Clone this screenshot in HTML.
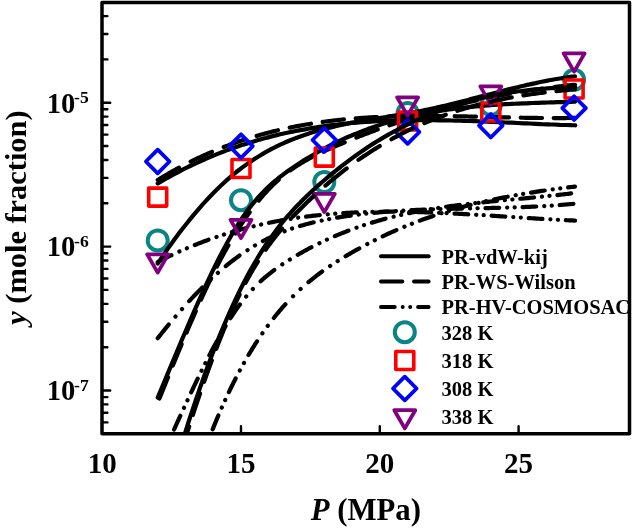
<!DOCTYPE html><html><head><meta charset="utf-8"><style>html,body{margin:0;padding:0;background:#fff;width:632px;height:530px;overflow:hidden}svg{display:block;will-change:transform}text{font-family:"Liberation Serif",serif;font-weight:bold;fill:#000}</style></head><body>
<svg width="632" height="530" viewBox="0 0 632 530">
<defs><clipPath id="pc"><rect x="102.0" y="2.5" width="527.5" height="431.2"/></clipPath></defs>
<circle cx="157.7" cy="240.4" r="10" fill="none" stroke="#0b8484" stroke-width="4"/>
<circle cx="241.0" cy="200.2" r="10" fill="none" stroke="#0b8484" stroke-width="4"/>
<circle cx="324.3" cy="182.0" r="10" fill="none" stroke="#0b8484" stroke-width="4"/>
<circle cx="407.6" cy="113.0" r="10" fill="none" stroke="#0b8484" stroke-width="4"/>
<circle cx="490.8" cy="105.0" r="10" fill="none" stroke="#0b8484" stroke-width="4"/>
<circle cx="574.1" cy="79.8" r="10" fill="none" stroke="#0b8484" stroke-width="4"/>
<g clip-path="url(#pc)" fill="none" stroke="#000" stroke-width="4.2" stroke-linecap="round" stroke-linejoin="round">
<path d="M157.7,183.5 C158.7,182.9 161.7,181.1 163.7,180.0 C165.7,178.9 167.7,177.7 169.7,176.6 C171.7,175.5 173.7,174.4 175.7,173.4 C177.7,172.3 179.7,171.3 181.7,170.2 C183.7,169.2 185.7,168.2 187.7,167.2 C189.7,166.2 191.7,165.3 193.7,164.3 C195.7,163.4 197.7,162.5 199.7,161.6 C201.7,160.6 203.7,159.8 205.7,158.9 C207.7,158.0 209.7,157.2 211.7,156.3 C213.7,155.5 215.7,154.7 217.7,153.9 C219.7,153.1 221.7,152.3 223.7,151.5 C225.7,150.8 227.7,150.0 229.7,149.3 C231.7,148.6 233.7,147.9 235.7,147.2 C237.7,146.5 239.7,145.8 241.7,145.1 C243.7,144.5 245.7,143.8 247.7,143.2 C249.7,142.6 251.7,142.0 253.7,141.4 C255.7,140.8 257.7,140.2 259.7,139.6 C261.7,139.1 263.7,138.5 265.7,138.0 C267.7,137.4 269.7,136.9 271.7,136.4 C273.7,135.9 275.7,135.4 277.7,134.9 C279.7,134.5 281.7,134.0 283.7,133.5 C285.7,133.1 287.7,132.7 289.7,132.2 C291.7,131.8 293.7,131.4 295.7,131.0 C297.7,130.6 299.7,130.2 301.7,129.9 C303.7,129.5 305.7,129.1 307.7,128.8 C309.7,128.4 311.7,128.1 313.7,127.8 C315.7,127.5 317.7,127.2 319.7,126.9 C321.7,126.6 323.7,126.3 325.7,126.0 C327.7,125.7 329.7,125.5 331.7,125.2 C333.7,125.0 335.7,124.7 337.7,124.5 C339.7,124.3 341.7,124.0 343.7,123.8 C345.7,123.6 347.7,123.4 349.7,123.2 C351.7,123.1 353.7,122.9 355.7,122.7 C357.7,122.5 359.7,122.4 361.7,122.2 C363.7,122.1 365.7,121.9 367.7,121.8 C369.7,121.7 371.7,121.6 373.7,121.4 C375.7,121.3 377.7,121.2 379.7,121.1 C381.7,121.0 383.7,120.9 385.7,120.8 C387.7,120.8 389.7,120.7 391.7,120.6 C393.7,120.6 395.7,120.5 397.7,120.4 C399.7,120.4 401.7,120.4 403.7,120.3 C405.7,120.3 407.7,120.2 409.7,120.2 C411.7,120.2 413.7,120.2 415.7,120.2 C417.7,120.1 419.7,120.1 421.7,120.1 C423.7,120.1 425.7,120.1 427.7,120.2 C429.7,120.2 431.7,120.2 433.7,120.2 C435.7,120.2 437.7,120.2 439.7,120.3 C441.7,120.3 443.7,120.3 445.7,120.4 C447.7,120.4 449.7,120.5 451.7,120.5 C453.7,120.6 455.7,120.6 457.7,120.7 C459.7,120.7 461.7,120.8 463.7,120.8 C465.7,120.9 467.7,121.0 469.7,121.0 C471.7,121.1 473.7,121.2 475.7,121.2 C477.7,121.3 479.7,121.4 481.7,121.5 C483.7,121.5 485.7,121.6 487.7,121.7 C489.7,121.8 491.7,121.9 493.7,121.9 C495.7,122.0 497.7,122.1 499.7,122.2 C501.7,122.3 503.7,122.4 505.7,122.5 C507.7,122.6 509.7,122.6 511.7,122.7 C513.7,122.8 515.7,122.9 517.7,123.0 C519.7,123.1 521.7,123.2 523.7,123.3 C525.7,123.4 527.7,123.4 529.7,123.5 C531.7,123.6 533.7,123.7 535.7,123.8 C537.7,123.9 539.7,124.0 541.7,124.1 C543.7,124.1 545.7,124.2 547.7,124.3 C549.7,124.4 551.7,124.5 553.7,124.5 C555.7,124.6 557.7,124.7 559.7,124.8 C561.7,124.8 563.7,124.9 565.7,125.0 C567.7,125.0 570.1,125.1 571.7,125.2 C573.3,125.2 574.6,125.2 575.2,125.3"/>
<path d="M157.7,263.6 C158.7,262.1 161.7,257.6 163.7,254.7 C165.7,251.8 167.7,248.9 169.7,246.1 C171.7,243.3 173.7,240.5 175.7,237.8 C177.7,235.1 179.7,232.4 181.7,229.8 C183.7,227.2 185.7,224.7 187.7,222.2 C189.7,219.6 191.7,217.2 193.7,214.8 C195.7,212.4 197.7,210.1 199.7,207.8 C201.7,205.5 203.7,203.2 205.7,201.1 C207.7,198.9 209.7,196.8 211.7,194.7 C213.7,192.6 215.7,190.6 217.7,188.7 C219.7,186.7 221.7,184.8 223.7,183.0 C225.7,181.1 227.7,179.3 229.7,177.6 C231.7,175.9 233.7,174.2 235.7,172.6 C237.7,171.0 239.7,169.5 241.7,167.9 C243.7,166.4 245.7,165.0 247.7,163.6 C249.7,162.2 251.7,160.8 253.7,159.5 C255.7,158.2 257.7,156.9 259.7,155.7 C261.7,154.5 263.7,153.3 265.7,152.2 C267.7,151.1 269.7,150.0 271.7,148.9 C273.7,147.9 275.7,146.9 277.7,145.9 C279.7,144.9 281.7,144.0 283.7,143.1 C285.7,142.2 287.7,141.4 289.7,140.5 C291.7,139.7 293.7,138.9 295.7,138.1 C297.7,137.4 299.7,136.6 301.7,135.9 C303.7,135.2 305.7,134.5 307.7,133.9 C309.7,133.2 311.7,132.6 313.7,132.0 C315.7,131.4 317.7,130.8 319.7,130.2 C321.7,129.7 323.7,129.1 325.7,128.6 C327.7,128.1 329.7,127.6 331.7,127.1 C333.7,126.6 335.7,126.2 337.7,125.7 C339.7,125.3 341.7,124.9 343.7,124.4 C345.7,124.0 347.7,123.6 349.7,123.2 C351.7,122.8 353.7,122.5 355.7,122.1 C357.7,121.7 359.7,121.4 361.7,121.0 C363.7,120.7 365.7,120.3 367.7,120.0 C369.7,119.7 371.7,119.3 373.7,119.0 C375.7,118.7 377.7,118.3 379.7,118.0 C381.7,117.7 383.7,117.4 385.7,117.1 C387.7,116.7 389.7,116.4 391.7,116.1 C393.7,115.8 395.7,115.4 397.7,115.1 C399.7,114.8 401.7,114.4 403.7,114.1 C405.7,113.7 407.7,113.4 409.7,113.0 C411.7,112.7 413.7,112.3 415.7,111.9 C417.7,111.6 419.7,111.2 421.7,110.8 C423.7,110.4 425.7,109.9 427.7,109.5 C429.7,109.1 431.7,108.7 433.7,108.2 C435.7,107.8 437.7,107.3 439.7,106.9 C441.7,106.4 443.7,105.9 445.7,105.5 C447.7,105.0 449.7,104.5 451.7,104.0 C453.7,103.5 455.7,103.0 457.7,102.5 C459.7,102.0 461.7,101.5 463.7,101.0 C465.7,100.5 467.7,100.0 469.7,99.4 C471.7,98.9 473.7,98.4 475.7,97.9 C477.7,97.4 479.7,96.8 481.7,96.3 C483.7,95.8 485.7,95.3 487.7,94.8 C489.7,94.2 491.7,93.7 493.7,93.2 C495.7,92.7 497.7,92.2 499.7,91.7 C501.7,91.1 503.7,90.6 505.7,90.1 C507.7,89.6 509.7,89.1 511.7,88.6 C513.7,88.1 515.7,87.7 517.7,87.2 C519.7,86.7 521.7,86.2 523.7,85.8 C525.7,85.3 527.7,84.8 529.7,84.4 C531.7,83.9 533.7,83.5 535.7,83.1 C537.7,82.6 539.7,82.2 541.7,81.8 C543.7,81.4 545.7,81.0 547.7,80.6 C549.7,80.2 551.7,79.9 553.7,79.5 C555.7,79.2 557.7,78.8 559.7,78.5 C561.7,78.2 563.7,77.9 565.7,77.6 C567.7,77.3 570.2,76.9 571.7,76.7 C573.2,76.5 574.5,76.4 575.0,76.3"/>
<path d="M157.7,397.6 C158.7,395.2 161.7,388.1 163.7,383.3 C165.7,378.5 167.7,373.7 169.7,368.9 C171.7,364.1 173.7,359.3 175.7,354.6 C177.7,349.8 179.7,345.0 181.7,340.3 C183.7,335.6 185.7,330.9 187.7,326.2 C189.7,321.5 191.7,316.9 193.7,312.3 C195.7,307.8 197.7,303.2 199.7,298.8 C201.7,294.3 203.7,289.9 205.7,285.6 C207.7,281.3 209.7,277.1 211.7,272.9 C213.7,268.8 215.7,264.7 217.7,260.7 C219.7,256.8 221.7,252.9 223.7,249.2 C225.7,245.4 227.7,241.8 229.7,238.3 C231.7,234.7 233.7,231.3 235.7,228.1 C237.7,224.8 239.7,221.7 241.7,218.7 C243.7,215.8 245.7,212.9 247.7,210.3 C249.7,207.6 251.7,205.0 253.7,202.6 C255.7,200.2 257.7,197.9 259.7,195.7 C261.7,193.6 263.7,191.5 265.7,189.5 C267.7,187.6 269.7,185.7 271.7,183.9 C273.7,182.1 275.7,180.5 277.7,178.8 C279.7,177.2 281.7,175.7 283.7,174.1 C285.7,172.6 287.7,171.2 289.7,169.8 C291.7,168.4 293.7,167.0 295.7,165.7 C297.7,164.4 299.7,163.1 301.7,161.8 C303.7,160.5 305.7,159.3 307.7,158.0 C309.7,156.8 311.7,155.6 313.7,154.5 C315.7,153.3 317.7,152.2 319.7,151.0 C321.7,149.9 323.7,148.9 325.7,147.8 C327.7,146.7 329.7,145.7 331.7,144.7 C333.7,143.7 335.7,142.7 337.7,141.7 C339.7,140.8 341.7,139.9 343.7,138.9 C345.7,138.0 347.7,137.1 349.7,136.3 C351.7,135.4 353.7,134.6 355.7,133.8 C357.7,132.9 359.7,132.2 361.7,131.4 C363.7,130.6 365.7,129.9 367.7,129.1 C369.7,128.4 371.7,127.7 373.7,127.0 C375.7,126.3 377.7,125.6 379.7,125.0 C381.7,124.3 383.7,123.7 385.7,123.1 C387.7,122.5 389.7,121.9 391.7,121.3 C393.7,120.8 395.7,120.2 397.7,119.7 C399.7,119.1 401.7,118.6 403.7,118.1 C405.7,117.6 407.7,117.1 409.7,116.7 C411.7,116.2 413.7,115.8 415.7,115.3 C417.7,114.9 419.7,114.5 421.7,114.1 C423.7,113.7 425.7,113.3 427.7,112.9 C429.7,112.5 431.7,112.2 433.7,111.8 C435.7,111.5 437.7,111.1 439.7,110.8 C441.7,110.5 443.7,110.2 445.7,109.9 C447.7,109.6 449.7,109.3 451.7,109.1 C453.7,108.8 455.7,108.5 457.7,108.3 C459.7,108.1 461.7,107.8 463.7,107.6 C465.7,107.4 467.7,107.2 469.7,107.0 C471.7,106.7 473.7,106.6 475.7,106.4 C477.7,106.2 479.7,106.0 481.7,105.8 C483.7,105.7 485.7,105.5 487.7,105.4 C489.7,105.2 491.7,105.1 493.7,104.9 C495.7,104.8 497.7,104.7 499.7,104.5 C501.7,104.4 503.7,104.3 505.7,104.2 C507.7,104.1 509.7,104.0 511.7,103.9 C513.7,103.8 515.7,103.7 517.7,103.6 C519.7,103.5 521.7,103.4 523.7,103.3 C525.7,103.3 527.7,103.2 529.7,103.1 C531.7,103.0 533.7,103.0 535.7,102.9 C537.7,102.8 539.7,102.8 541.7,102.7 C543.7,102.6 545.7,102.6 547.7,102.5 C549.7,102.4 551.7,102.4 553.7,102.3 C555.7,102.2 557.7,102.2 559.7,102.1 C561.7,102.1 563.7,102.0 565.7,101.9 C567.7,101.9 570.2,101.8 571.7,101.8 C573.2,101.7 574.5,101.7 575.0,101.6"/>
<path d="M157.70,179.99L159.01,179.19L160.32,178.39L161.77,177.51L163.18,176.66L164.70,175.76L166.20,174.87L167.70,174.00L169.20,173.13L170.70,172.28L172.20,171.43L173.70,170.59L175.20,169.75L176.70,168.93L178.20,168.11L179.00,167.68M190.70,161.63L192.20,160.89L193.70,160.15L195.20,159.43L196.70,158.71L198.20,158.00L199.70,157.29L201.20,156.60L202.70,155.91L204.20,155.23L205.70,154.56L207.20,153.89L208.70,153.24L210.20,152.59L211.70,151.94L212.00,151.82M223.70,147.06L225.20,146.48L226.70,145.91L228.20,145.34L229.70,144.79L231.20,144.23L232.70,143.69L234.20,143.15L235.70,142.62L237.20,142.10L238.70,141.58L240.20,141.07L241.70,140.56L243.20,140.07L244.70,139.57L245.00,139.48M256.70,135.87L258.20,135.43L259.70,135.00L261.20,134.58L262.70,134.16L264.20,133.75L265.70,133.35L267.20,132.95L268.70,132.56L270.20,132.17L271.70,131.79L273.20,131.41L274.70,131.04L276.20,130.68L277.70,130.32L278.00,130.24M289.70,127.64L291.20,127.33L292.70,127.02L294.20,126.72L295.70,126.43L297.20,126.14L298.70,125.85L300.20,125.57L301.70,125.30L303.20,125.03L304.70,124.76L306.20,124.50L307.70,124.25L309.20,124.00L310.70,123.75L311.00,123.70M322.70,121.95L324.20,121.75L325.70,121.54L327.20,121.35L328.70,121.16L330.20,120.97L331.70,120.78L333.20,120.61L334.70,120.43L336.20,120.26L337.70,120.09L339.20,119.93L340.70,119.77L342.20,119.61L343.70,119.46L344.00,119.43M355.70,118.38L357.20,118.26L358.70,118.15L360.20,118.04L361.70,117.93L363.20,117.83L364.70,117.72L366.20,117.63L367.70,117.53L369.20,117.44L370.70,117.35L372.20,117.26L373.70,117.18L375.20,117.10L376.70,117.03L377.00,117.01M388.70,116.52L390.20,116.47L391.70,116.42L393.20,116.37L394.70,116.33L396.20,116.29L397.70,116.25L399.20,116.22L400.70,116.18L402.20,116.15L403.70,116.12L405.20,116.09L406.70,116.07L408.20,116.05L409.70,116.03L410.00,116.02M421.70,115.94L423.20,115.94L424.70,115.94L426.20,115.94L427.70,115.94L429.20,115.94L430.70,115.95L432.20,115.96L433.70,115.96L435.20,115.98L436.70,115.99L438.20,116.00L439.70,116.01L441.20,116.03L442.70,116.05L443.00,116.05M454.70,116.22L456.20,116.25L457.70,116.28L459.20,116.31L460.70,116.34L462.20,116.37L463.70,116.40L465.20,116.43L466.70,116.46L468.20,116.49L469.70,116.53L471.20,116.56L472.70,116.59L474.20,116.63L475.70,116.66L476.00,116.67M487.70,116.96L489.20,116.99L490.70,117.03L492.20,117.07L493.70,117.10L495.20,117.14L496.70,117.18L498.20,117.21L499.70,117.25L501.20,117.29L502.70,117.32L504.20,117.36L505.70,117.39L507.20,117.43L508.70,117.46L509.00,117.47M520.70,117.72L522.20,117.74L523.70,117.77L525.20,117.80L526.70,117.82L528.20,117.85L529.70,117.87L531.20,117.89L532.70,117.92L534.20,117.94L535.70,117.96L537.20,117.97L538.70,117.99L540.20,118.01L541.70,118.02L542.00,118.02M553.70,118.08L555.20,118.08L556.70,118.08L558.20,118.08L559.70,118.07L561.20,118.07L562.70,118.06L564.20,118.05L565.70,118.04L567.26,118.02L568.87,118.00L570.39,117.99L571.89,117.97L573.43,117.94L575.00,117.92"/>
<path d="M157.70,262.03L159.26,261.23L160.61,260.54L162.06,259.80L163.45,259.10L164.95,258.35L166.45,257.62L167.95,256.88L169.45,256.16L170.95,255.44L171.40,255.23M179.35,251.56L179.45,251.52M186.85,248.28L186.95,248.25M194.80,245.00L196.20,244.44L197.70,243.85L199.20,243.26L200.70,242.68L202.20,242.11L203.70,241.55L205.20,240.99L206.70,240.43L208.20,239.89L208.50,239.78M216.45,236.99L216.55,236.96M223.95,234.53L224.05,234.50M231.90,232.08L233.45,231.63L234.95,231.19L236.45,230.76L237.95,230.33L239.45,229.92L240.95,229.50L242.45,229.09L243.95,228.69L245.45,228.30L245.60,228.26M253.55,226.25L253.65,226.23M261.05,224.50L261.15,224.48M269.00,222.79L270.70,222.44L272.20,222.14L273.70,221.85L275.20,221.56L276.70,221.27L278.20,220.99L279.70,220.71L281.20,220.44L282.70,220.18L282.70,220.18M290.65,218.85L290.75,218.83M298.15,217.71L298.25,217.70M306.10,216.63L307.70,216.43L309.20,216.24L310.70,216.06L312.20,215.88L313.70,215.71L315.20,215.54L316.70,215.38L318.20,215.22L319.70,215.06L319.80,215.05M327.75,214.29L327.85,214.28M335.25,213.67L335.35,213.66M343.20,213.12L344.70,213.02L346.20,212.93L347.70,212.85L349.20,212.76L350.70,212.68L352.20,212.61L353.70,212.53L355.20,212.46L356.70,212.40L356.90,212.39M364.85,212.09L364.95,212.09M372.35,211.89L372.45,211.89M380.30,211.76L381.95,211.74L383.45,211.72L384.95,211.71L386.45,211.70L387.95,211.70L389.45,211.70L390.95,211.69L392.45,211.70L393.95,211.70L394.00,211.70M401.95,211.76L402.05,211.76M409.45,211.88L409.55,211.88M417.40,212.06L418.95,212.10L420.45,212.15L421.95,212.19L423.45,212.24L424.95,212.28L426.45,212.33L427.95,212.39L429.45,212.44L430.95,212.49L431.10,212.50M439.05,212.82L439.15,212.82M446.55,213.15L446.65,213.16M454.50,213.55L456.20,213.63L457.70,213.71L459.20,213.79L460.70,213.87L462.20,213.96L463.70,214.04L465.20,214.12L466.70,214.21L468.20,214.29M476.15,214.76L476.25,214.77M483.65,215.22L483.75,215.22M491.60,215.72L493.20,215.82L494.70,215.91L496.20,216.01L497.70,216.11L499.20,216.20L500.70,216.30L502.20,216.40L503.70,216.49L505.20,216.59L505.30,216.60M513.25,217.11L513.35,217.11M520.75,217.59L520.85,217.59M528.70,218.09L530.20,218.18L531.70,218.27L533.20,218.37L534.70,218.46L536.20,218.55L537.70,218.64L539.20,218.73L540.70,218.82L542.20,218.90L542.40,218.92M550.35,219.37L550.45,219.37M557.85,219.77L557.95,219.78M565.80,220.17L567.53,220.25L569.13,220.32L570.86,220.40L572.44,220.47L574.00,220.54L575.00,220.58"/>
<path d="M157.70,338.23L158.78,336.87L159.77,335.62L160.90,334.21L162.06,332.75L163.18,331.35L164.20,330.09L165.20,328.86L166.20,327.64L167.20,326.42L168.20,325.21L168.76,324.53M175.46,316.57L175.53,316.49M182.00,309.07L182.07,308.99M189.18,301.13L190.45,299.77L191.70,298.43L192.95,297.10L194.20,295.79L195.45,294.48L196.70,293.19L197.95,291.90L199.20,290.63L200.45,289.36L201.70,288.11L202.38,287.43M210.34,279.74L210.42,279.67M217.84,272.92L217.92,272.85M225.78,266.14L226.95,265.18L228.20,264.17L229.45,263.17L230.70,262.18L231.95,261.21L233.20,260.25L234.45,259.29L235.70,258.36L236.95,257.43L238.20,256.52L239.45,255.62L239.48,255.59M247.44,250.16L247.52,250.10M254.94,245.51L255.02,245.46M262.88,241.08L264.45,240.26L265.95,239.50L267.45,238.75L268.95,238.01L270.45,237.30L271.95,236.59L273.45,235.91L274.95,235.23L276.45,234.58L276.58,234.52M284.53,231.28L284.63,231.24M292.03,228.57L292.13,228.53M299.98,226.02L301.45,225.59L302.95,225.15L304.45,224.73L305.95,224.32L307.45,223.92L308.95,223.52L310.45,223.14L311.95,222.76L313.45,222.40L313.68,222.34M321.63,220.56L321.73,220.54M329.13,219.07L329.23,219.05M337.08,217.66L338.70,217.39L340.20,217.15L341.70,216.92L343.20,216.68L344.70,216.45L346.20,216.23L347.70,216.01L349.20,215.80L350.70,215.59L350.78,215.58M358.73,214.54L358.83,214.52M366.23,213.66L366.33,213.65M374.18,212.83L375.70,212.69L377.20,212.55L378.70,212.41L380.20,212.28L381.70,212.14L383.20,212.02L384.70,211.89L386.20,211.77L387.70,211.65L387.88,211.64M395.83,211.07L395.93,211.06M403.33,210.60L403.43,210.59M411.28,210.17L412.95,210.09L414.45,210.01L415.95,209.94L417.45,209.88L418.95,209.81L420.45,209.75L421.95,209.69L423.45,209.63L424.95,209.57L424.98,209.57M432.93,209.29L433.03,209.29M440.43,209.06L440.53,209.06M448.38,208.86L449.95,208.82L451.45,208.79L452.95,208.75L454.45,208.72L455.95,208.68L457.45,208.65L458.95,208.62L460.45,208.59L461.95,208.56L462.08,208.56M470.03,208.40L470.13,208.40M477.53,208.26L477.63,208.25M485.48,208.10L487.20,208.06L488.70,208.03L490.20,208.00L491.70,207.97L493.20,207.94L494.70,207.90L496.20,207.87L497.70,207.83L499.18,207.80M507.13,207.59L507.23,207.59M514.63,207.37L514.73,207.36M522.58,207.09L524.20,207.03L525.70,206.97L527.20,206.90L528.70,206.84L530.20,206.78L531.70,206.71L533.20,206.64L534.70,206.57L536.20,206.49L536.28,206.49M544.23,206.06L544.33,206.05M551.73,205.59L551.83,205.58M559.68,205.02L561.20,204.90L562.70,204.78L564.20,204.65L565.70,204.53L567.26,204.39L568.87,204.25L570.39,204.11L571.89,203.97L573.38,203.82"/>
<path d="M167.06,444.94L167.10,444.85M170.47,437.44L170.51,437.35M174.07,429.50L174.84,427.82L175.59,426.16L176.34,424.49L177.10,422.84L177.85,421.18L178.60,419.54L179.35,417.89L180.10,416.25L180.31,415.80M183.96,407.84L184.00,407.75M187.43,400.34L187.47,400.25M191.14,392.40L191.85,390.90L192.60,389.31L193.35,387.73L194.10,386.15L194.85,384.58L195.60,383.01L196.35,381.45L197.10,379.89L197.68,378.70M201.56,370.74L201.61,370.65M205.30,363.24L205.35,363.15M209.36,355.30L210.10,353.88L210.85,352.44L211.60,351.02L212.35,349.60L213.10,348.19L213.85,346.79L214.60,345.39L215.35,344.01L216.10,342.63L216.67,341.60M221.14,333.64L221.19,333.55M225.55,326.14L225.60,326.05M230.48,318.20L231.35,316.84L232.35,315.31L233.35,313.81L234.35,312.32L235.35,310.86L236.35,309.41L237.35,307.99L238.35,306.60L239.35,305.23L239.89,304.50M246.15,296.54L246.21,296.46M252.79,289.03L252.85,288.96M260.61,281.27L261.85,280.14L263.10,279.02L264.35,277.92L265.60,276.85L266.85,275.80L268.10,274.77L269.35,273.77L270.60,272.78L271.85,271.81L273.10,270.86L274.31,269.96M282.27,264.39L282.36,264.33M289.77,259.59L289.86,259.54M297.71,254.82L299.10,254.02L300.60,253.16L302.10,252.31L303.60,251.48L305.10,250.65L306.60,249.83L308.10,249.02L309.60,248.22L311.10,247.43L311.41,247.26M319.37,243.24L319.46,243.20M326.87,239.68L326.96,239.64M334.81,236.15L336.35,235.50L337.85,234.87L339.35,234.25L340.85,233.63L342.35,233.03L343.85,232.43L345.35,231.84L346.85,231.25L348.35,230.68L348.51,230.62M356.47,227.70L356.56,227.67M363.97,225.14L364.06,225.11M371.91,222.62L373.60,222.12L375.10,221.67L376.60,221.23L378.10,220.79L379.60,220.37L381.10,219.95L382.60,219.53L384.10,219.12L385.60,218.72L385.61,218.72M393.57,216.68L393.66,216.66M401.07,214.91L401.16,214.89M409.01,213.18L410.60,212.85L412.10,212.54L413.60,212.24L415.10,211.94L416.60,211.65L418.10,211.36L419.60,211.08L421.10,210.80L422.60,210.53L422.71,210.51M430.67,209.13L430.76,209.11M438.17,207.93L438.26,207.91M446.11,206.75L447.60,206.54L449.10,206.33L450.60,206.13L452.10,205.93L453.60,205.73L455.10,205.53L456.60,205.34L458.10,205.15L459.60,204.96L459.81,204.93M467.76,203.98L467.86,203.97M475.26,203.14L475.36,203.13M483.21,202.29L484.85,202.13L486.35,201.97L487.85,201.82L489.35,201.67L490.85,201.53L492.35,201.38L493.85,201.23L495.35,201.09L496.85,200.94L496.91,200.94M504.86,200.18L504.96,200.17M512.36,199.49L512.46,199.48M520.31,198.75L521.85,198.61L523.35,198.47L524.85,198.33L526.35,198.19L527.85,198.05L529.35,197.90L530.85,197.76L532.35,197.62L533.85,197.47L534.01,197.46M541.96,196.68L542.06,196.67M549.46,195.91L549.56,195.90M557.41,195.06L559.10,194.87L560.60,194.70L562.10,194.53L563.60,194.35L565.10,194.18L566.60,194.00L568.10,193.82L569.72,193.62L571.11,193.44"/>
<path d="M206.38,444.69L206.42,444.60M209.44,437.19L209.48,437.10M212.68,429.24L213.45,427.34L214.21,425.47L214.97,423.59L215.74,421.73L216.50,419.89L217.25,418.10L218.00,416.33L218.34,415.54M221.79,407.59L221.84,407.50M225.17,400.09L225.21,400.00M228.88,392.14L229.75,390.33L230.50,388.78L231.25,387.24L232.00,385.71L232.75,384.20L233.50,382.69L234.25,381.20L235.00,379.72L235.65,378.44M239.83,370.49L239.87,370.40M243.94,362.99L243.99,362.90M248.52,355.04L249.50,353.39L250.50,351.72L251.50,350.08L252.50,348.45L253.50,346.84L254.50,345.25L255.50,343.68L256.50,342.13L257.01,341.34M262.36,333.38L262.41,333.30M267.72,325.88L267.78,325.80M273.80,317.94L274.75,316.75L275.75,315.51L276.75,314.28L277.75,313.07L278.75,311.88L279.75,310.70L280.75,309.53L281.75,308.38L282.75,307.24L283.75,306.11L285.00,304.72L285.44,304.24M293.04,296.28L293.11,296.21M300.54,289.09L300.61,289.02M308.47,282.14L309.75,281.08L311.00,280.06L312.25,279.05L313.50,278.05L314.75,277.07L316.00,276.10L317.25,275.14L318.50,274.20L319.75,273.27L321.00,272.35L322.17,271.49M330.13,265.96L330.21,265.90M337.63,261.09L337.71,261.03M345.57,256.21L347.00,255.36L348.50,254.48L350.00,253.60L351.50,252.73L353.00,251.87L354.50,251.01L356.00,250.17L357.50,249.33L359.00,248.50L359.27,248.34M367.23,244.07L367.32,244.02M374.73,240.22L374.82,240.18M382.67,236.34L384.25,235.59L385.75,234.89L387.25,234.19L388.75,233.50L390.25,232.82L391.75,232.14L393.25,231.47L394.75,230.81L396.25,230.15L396.37,230.10M404.33,226.73L404.42,226.69M411.83,223.71L411.92,223.67M419.77,220.68L421.25,220.13L422.75,219.58L424.25,219.04L425.75,218.50L427.25,217.97L428.75,217.45L430.25,216.93L431.75,216.41L433.25,215.90L433.47,215.83M441.42,213.22L441.52,213.19M448.92,210.90L449.02,210.88M456.87,208.58L458.50,208.12L460.00,207.71L461.50,207.29L463.00,206.89L464.50,206.48L466.00,206.08L467.50,205.69L469.00,205.30L470.50,204.91L470.57,204.89M478.52,202.92L478.62,202.90M486.02,201.17L486.12,201.15M493.97,199.43L495.50,199.10L497.00,198.79L498.50,198.48L500.00,198.17L501.50,197.87L503.00,197.57L504.50,197.28L506.00,196.98L507.50,196.70L507.67,196.66M515.62,195.19L515.72,195.17M523.12,193.88L523.22,193.86M531.07,192.57L532.75,192.31L534.25,192.07L535.75,191.84L537.25,191.61L538.75,191.38L540.25,191.16L541.75,190.94L543.25,190.72L544.75,190.50L544.77,190.50M552.72,189.38L552.82,189.37M560.22,188.39L560.32,188.38M568.17,187.39L569.88,187.18L571.42,186.99L573.01,186.80L574.59,186.61L575.00,186.56"/>
<path d="M159.45,398.56L160.10,396.94L160.76,395.30L161.53,393.41L162.36,391.34L162.94,389.90L163.52,388.45L164.10,387.02L164.66,385.63L165.45,383.67L166.20,381.82L166.95,379.96L167.70,378.11L168.05,377.26M172.81,365.56L173.45,363.99L174.20,362.16L174.95,360.33L175.70,358.50L176.45,356.68L177.20,354.86L177.95,353.05L178.70,351.24L179.45,349.43L180.20,347.63L180.95,345.83L181.61,344.26M186.54,332.56L187.20,331.00L187.95,329.24L188.70,327.49L189.45,325.75L190.20,324.01L190.95,322.27L191.70,320.54L192.45,318.82L193.20,317.10L193.95,315.39L194.70,313.68L195.45,311.98L195.77,311.26M201.03,299.56L201.70,298.08L202.45,296.45L203.20,294.82L203.95,293.20L204.70,291.59L205.45,289.98L206.20,288.39L206.95,286.80L207.70,285.22L208.45,283.65L209.20,282.09L209.95,280.53L210.70,278.99L211.06,278.26M216.91,266.56L217.70,265.01L218.45,263.56L219.20,262.13L219.95,260.70L220.70,259.28L221.45,257.88L222.20,256.48L222.95,255.09L223.70,253.72L224.45,252.35L225.20,250.99L225.95,249.65L226.70,248.31L227.45,246.99L228.20,245.67L228.44,245.26M235.40,233.56L236.20,232.27L237.20,230.68L238.20,229.10L239.20,227.54L240.20,226.00L241.20,224.47L242.20,222.97L243.20,221.48L244.20,220.00L245.20,218.55L246.20,217.11L247.20,215.69L248.20,214.29L249.20,212.91L249.67,212.26M258.74,200.56L259.95,199.11L260.95,197.92L261.95,196.76L262.95,195.61L263.95,194.48L265.20,193.08L266.45,191.72L267.70,190.38L268.95,189.07L270.20,187.78L271.45,186.52L272.70,185.28L273.95,184.07L275.20,182.89L276.45,181.73L277.70,180.59L278.71,179.70M290.41,170.34L291.70,169.41L292.95,168.53L294.20,167.68L295.45,166.84L296.95,165.85L298.45,164.89L299.95,163.95L301.45,163.03L302.95,162.14L304.45,161.26L305.95,160.41L307.45,159.57L308.95,158.75L310.45,157.94L311.71,157.28M323.41,151.58L324.95,150.88L326.45,150.20L327.95,149.53L329.45,148.87L330.95,148.21L332.45,147.56L333.95,146.91L335.45,146.26L336.95,145.62L338.45,144.98L339.95,144.35L341.45,143.71L342.95,143.08L344.45,142.46L344.71,142.35M356.41,137.60L357.95,136.98L359.45,136.39L360.95,135.80L362.45,135.22L363.95,134.64L365.45,134.06L366.95,133.49L368.45,132.92L369.95,132.35L371.45,131.79L372.95,131.22L374.45,130.67L375.95,130.11L377.45,129.56L377.71,129.47M389.41,125.29L390.95,124.76L392.45,124.24L393.95,123.73L395.45,123.22L396.95,122.71L398.45,122.21L399.95,121.71L401.45,121.21L402.95,120.71L404.45,120.22L405.95,119.74L407.45,119.25L408.95,118.77L410.45,118.29L410.71,118.21M422.41,114.60L423.95,114.14L425.45,113.70L426.95,113.25L428.45,112.81L429.95,112.38L431.45,111.95L432.95,111.52L434.45,111.09L435.95,110.67L437.45,110.25L438.95,109.83L440.45,109.42L441.95,109.01L443.45,108.60L443.71,108.53M455.41,105.47L456.95,105.08L458.45,104.71L459.95,104.34L461.45,103.97L462.95,103.60L464.45,103.24L465.95,102.88L467.45,102.52L468.95,102.17L470.45,101.82L471.95,101.47L473.45,101.13L474.95,100.78L476.45,100.45L476.71,100.39M488.41,97.86L489.95,97.54L491.45,97.23L492.95,96.93L494.45,96.63L495.95,96.33L497.45,96.03L498.95,95.74L500.45,95.45L501.95,95.16L503.45,94.88L504.95,94.60L506.45,94.32L507.95,94.05L509.45,93.78L509.71,93.73M521.41,91.72L522.95,91.47L524.45,91.22L525.95,90.98L527.45,90.75L528.95,90.51L530.45,90.28L531.95,90.06L533.45,89.83L534.95,89.61L536.45,89.39L537.95,89.18L539.45,88.96L540.95,88.75L542.45,88.55L542.71,88.51M554.41,87.00L555.95,86.81L557.45,86.63L558.95,86.46L560.45,86.29L561.95,86.12L563.45,85.95L564.95,85.78L566.45,85.62L567.97,85.46L569.62,85.29L571.27,85.13L572.91,84.96L574.43,84.81L575.00,84.76"/>
</g>
<rect x="148.7" y="188.1" width="18" height="18" fill="none" stroke="#ff0000" stroke-width="3.6" stroke-linejoin="round"/>
<rect x="232.0" y="159.5" width="18" height="18" fill="none" stroke="#ff0000" stroke-width="3.6" stroke-linejoin="round"/>
<rect x="315.3" y="148.1" width="18" height="18" fill="none" stroke="#ff0000" stroke-width="3.6" stroke-linejoin="round"/>
<rect x="398.6" y="112.0" width="18" height="18" fill="none" stroke="#ff0000" stroke-width="3.6" stroke-linejoin="round"/>
<rect x="481.8" y="103.0" width="18" height="18" fill="none" stroke="#ff0000" stroke-width="3.6" stroke-linejoin="round"/>
<rect x="565.1" y="80.0" width="18" height="18" fill="none" stroke="#ff0000" stroke-width="3.6" stroke-linejoin="round"/>
<path d="M157.7,149.7 L169.5,161.5 L157.7,173.3 L145.9,161.5Z" fill="none" stroke="#0000ff" stroke-width="3.8" stroke-linejoin="round"/>
<path d="M241.0,134.3 L252.8,146.1 L241.0,157.9 L229.2,146.1Z" fill="none" stroke="#0000ff" stroke-width="3.8" stroke-linejoin="round"/>
<path d="M324.3,128.2 L336.1,140.0 L324.3,151.8 L312.5,140.0Z" fill="none" stroke="#0000ff" stroke-width="3.8" stroke-linejoin="round"/>
<path d="M407.6,120.2 L419.4,132.0 L407.6,143.8 L395.8,132.0Z" fill="none" stroke="#0000ff" stroke-width="3.8" stroke-linejoin="round"/>
<path d="M490.8,113.9 L502.6,125.7 L490.8,137.5 L479.0,125.7Z" fill="none" stroke="#0000ff" stroke-width="3.8" stroke-linejoin="round"/>
<path d="M574.1,96.3 L585.9,108.1 L574.1,119.9 L562.3,108.1Z" fill="none" stroke="#0000ff" stroke-width="3.8" stroke-linejoin="round"/>
<path d="M147.2,254.4 L168.2,254.4 L157.7,272.6Z" fill="none" stroke="#800080" stroke-width="3.8" stroke-linejoin="round"/>
<path d="M230.5,219.9 L251.5,219.9 L241.0,238.1Z" fill="none" stroke="#800080" stroke-width="3.8" stroke-linejoin="round"/>
<path d="M313.8,193.9 L334.8,193.9 L324.3,212.1Z" fill="none" stroke="#800080" stroke-width="3.8" stroke-linejoin="round"/>
<path d="M397.1,97.4 L418.1,97.4 L407.6,115.6Z" fill="none" stroke="#800080" stroke-width="3.8" stroke-linejoin="round"/>
<path d="M480.3,86.4 L501.3,86.4 L490.8,104.6Z" fill="none" stroke="#800080" stroke-width="3.8" stroke-linejoin="round"/>
<path d="M563.6,53.4 L584.6,53.4 L574.1,71.6Z" fill="none" stroke="#800080" stroke-width="3.8" stroke-linejoin="round"/>
<g clip-path="url(#pc)" fill="none" stroke="#000" stroke-width="4.2" stroke-linecap="round" stroke-linejoin="round">
<path d="M180.5,447.2 C181.2,445.0 183.1,439.2 184.8,433.9 C186.5,428.5 188.8,421.2 190.8,415.1 C192.8,409.0 194.8,403.0 196.8,397.1 C198.8,391.3 200.8,385.5 202.8,379.9 C204.8,374.3 206.8,368.8 208.8,363.5 C210.8,358.1 212.8,352.9 214.8,347.8 C216.8,342.7 218.8,337.8 220.8,332.9 C222.8,328.1 224.8,323.4 226.8,318.8 C228.8,314.2 230.8,309.7 232.8,305.4 C234.8,301.0 236.8,296.8 238.8,292.7 C240.8,288.6 242.8,284.7 244.8,280.8 C246.8,277.0 248.8,273.2 250.8,269.6 C252.8,266.0 254.8,262.6 256.8,259.2 C258.8,255.9 260.8,252.6 262.8,249.5 C264.8,246.4 266.8,243.4 268.8,240.5 C270.8,237.6 272.8,234.9 274.8,232.2 C276.8,229.5 278.8,226.9 280.8,224.4 C282.8,221.9 284.8,219.5 286.8,217.2 C288.8,214.9 290.8,212.6 292.8,210.4 C294.8,208.2 296.8,206.1 298.8,204.1 C300.8,202.0 302.8,200.0 304.8,198.1 C306.8,196.1 308.8,194.2 310.8,192.3 C312.8,190.5 314.8,188.6 316.8,186.8 C318.8,185.0 320.8,183.3 322.8,181.5 C324.8,179.8 326.8,178.1 328.8,176.4 C330.8,174.7 332.8,173.1 334.8,171.5 C336.8,169.8 338.8,168.2 340.8,166.7 C342.8,165.1 344.8,163.6 346.8,162.1 C348.8,160.6 350.8,159.1 352.8,157.6 C354.8,156.2 356.8,154.8 358.8,153.4 C360.8,152.0 362.8,150.6 364.8,149.3 C366.8,147.9 368.8,146.6 370.8,145.3 C372.8,144.0 374.8,142.8 376.8,141.5 C378.8,140.3 380.8,139.1 382.8,137.9 C384.8,136.7 386.8,135.6 388.8,134.4 C390.8,133.3 392.8,132.2 394.8,131.1 C396.8,130.0 398.8,129.0 400.8,127.9 C402.8,126.9 404.8,125.9 406.8,124.9 C408.8,123.9 410.8,122.9 412.8,122.0 C414.8,121.1 416.8,120.1 418.8,119.3 C420.8,118.4 422.8,117.5 424.8,116.6 C426.8,115.8 428.8,115.0 430.8,114.1 C432.8,113.3 434.8,112.6 436.8,111.8 C438.8,111.0 440.8,110.3 442.8,109.6 C444.8,108.8 446.8,108.1 448.8,107.5 C450.8,106.8 452.8,106.1 454.8,105.5 C456.8,104.8 458.8,104.2 460.8,103.6 C462.8,103.0 464.8,102.4 466.8,101.9 C468.8,101.3 470.8,100.8 472.8,100.2 C474.8,99.7 476.8,99.2 478.8,98.7 C480.8,98.2 482.8,97.8 484.8,97.3 C486.8,96.9 488.8,96.4 490.8,96.0 C492.8,95.6 494.8,95.2 496.8,94.8 C498.8,94.4 500.8,94.1 502.8,93.7 C504.8,93.4 506.8,93.0 508.8,92.7 C510.8,92.4 512.8,92.1 514.8,91.8 C516.8,91.5 518.8,91.2 520.8,91.0 C522.8,90.7 524.8,90.5 526.8,90.3 C528.8,90.0 530.8,89.8 532.8,89.6 C534.8,89.4 536.8,89.2 538.8,89.1 C540.8,88.9 542.8,88.7 544.8,88.6 C546.8,88.4 548.8,88.3 550.8,88.2 C552.8,88.1 554.8,87.9 556.8,87.9 C558.8,87.8 560.8,87.7 562.8,87.6 C564.8,87.5 566.8,87.5 568.8,87.4 C570.8,87.4 573.8,87.3 574.8,87.3 C575.8,87.3 575.0,87.3 575.0,87.3"/>
<path d="M182.34,447.85L182.92,446.03L183.39,444.59L183.91,442.94L184.49,441.13L185.11,439.20L185.75,437.20L186.40,435.18L187.05,433.14L187.51,431.70L187.99,430.19L188.48,428.64L188.99,427.06L189.15,426.55M192.92,414.85L193.61,412.72L194.11,411.20L194.61,409.69L195.11,408.17L195.61,406.66L196.11,405.16L196.61,403.66L197.11,402.17L197.61,400.68L198.11,399.20L198.61,397.72L199.11,396.25L199.61,394.78L200.03,393.55M204.09,381.85L204.61,380.36L205.36,378.24L206.11,376.13L206.86,374.03L207.61,371.94L208.36,369.87L209.11,367.81L209.86,365.76L210.61,363.72L211.36,361.69L211.79,360.55M216.23,348.85L216.86,347.20L217.61,345.28L218.36,343.36L219.11,341.46L219.86,339.57L220.61,337.70L221.36,335.84L222.11,333.99L222.86,332.15L223.61,330.32L224.36,328.51L224.77,327.55M229.77,315.85L230.61,313.93L231.36,312.24L232.11,310.56L232.86,308.90L233.61,307.25L234.36,305.62L235.11,304.00L235.86,302.39L236.61,300.80L237.36,299.22L238.11,297.65L238.86,296.10L239.61,294.57L239.62,294.55M245.58,282.85L246.36,281.38L247.11,279.99L247.86,278.61L248.61,277.25L249.36,275.90L250.11,274.56L250.86,273.24L251.61,271.93L252.61,270.21L253.61,268.51L254.61,266.83L255.61,265.18L256.61,263.55L257.61,261.95L257.86,261.55M265.61,249.85L266.61,248.42L267.61,247.02L268.61,245.63L269.61,244.26L270.61,242.91L271.61,241.58L272.61,240.26L273.61,238.96L274.61,237.68L275.61,236.41L276.61,235.15L277.61,233.91L278.61,232.69L279.61,231.48L280.61,230.28L281.61,229.10L282.08,228.55M292.63,216.85L293.86,215.55L295.11,214.24L296.36,212.96L297.61,211.68L298.86,210.42L300.11,209.16L301.36,207.91L302.61,206.68L303.86,205.45L305.11,204.23L306.36,203.02L307.61,201.82L308.86,200.63L310.11,199.44L311.36,198.27L312.61,197.10L313.73,196.07M325.43,185.62L326.61,184.60L327.86,183.53L329.11,182.48L330.36,181.43L331.61,180.38L332.86,179.35L334.11,178.32L335.36,177.31L336.61,176.29L337.86,175.29L339.11,174.30L340.36,173.31L341.61,172.33L342.86,171.36L344.11,170.40L345.36,169.44L346.61,168.49L346.73,168.41M358.43,159.90L359.86,158.90L361.11,158.04L362.36,157.18L363.61,156.34L364.86,155.49L366.11,154.66L367.61,153.67L369.11,152.69L370.61,151.72L372.11,150.76L373.61,149.81L375.11,148.87L376.61,147.93L378.11,147.01L379.61,146.10L379.73,146.03M391.43,139.25L392.86,138.46L394.36,137.64L395.86,136.84L397.36,136.03L398.86,135.24L400.36,134.46L401.86,133.69L403.36,132.92L404.86,132.17L406.36,131.42L407.86,130.68L409.36,129.95L410.86,129.23L412.36,128.52L412.73,128.34M424.43,123.08L425.86,122.47L427.36,121.84L428.86,121.22L430.36,120.60L431.86,120.00L433.36,119.40L434.86,118.80L436.36,118.22L437.86,117.64L439.36,117.07L440.86,116.51L442.36,115.96L443.86,115.41L445.36,114.87L445.73,114.74M457.43,110.78L458.86,110.33L460.36,109.86L461.86,109.39L463.36,108.94L464.86,108.49L466.36,108.04L467.86,107.61L469.36,107.17L470.86,106.75L472.36,106.33L473.86,105.92L475.36,105.51L476.86,105.11L478.36,104.72L478.73,104.62M490.43,101.76L492.11,101.37L493.61,101.04L495.11,100.71L496.61,100.38L498.11,100.06L499.61,99.75L501.11,99.44L502.61,99.13L504.11,98.83L505.61,98.54L507.11,98.25L508.61,97.96L510.11,97.68L511.61,97.41L511.73,97.39M523.43,95.40L525.11,95.14L526.61,94.91L528.11,94.68L529.61,94.46L531.11,94.24L532.61,94.03L534.11,93.82L535.61,93.61L537.11,93.41L538.61,93.21L540.11,93.01L541.61,92.82L543.11,92.63L544.61,92.45L544.73,92.44M556.43,91.11L558.11,90.94L559.61,90.79L561.11,90.64L562.61,90.49L564.11,90.35L565.63,90.21L567.19,90.06L568.73,89.93L570.39,89.78L571.93,89.65L573.56,89.51L575.00,89.39"/>
</g>
<path d="M102.0,102.7H110.2 M102.0,246.6H110.2 M102.0,390.5H110.2 M102.0,59.4H107.4 M102.0,34.0H107.4 M102.0,16.1H107.4 M102.0,203.3H107.4 M102.0,177.9H107.4 M102.0,160.0H107.4 M102.0,146.0H107.4 M102.0,134.6H107.4 M102.0,125.0H107.4 M102.0,116.6H107.4 M102.0,109.3H107.4 M102.0,347.2H107.4 M102.0,321.8H107.4 M102.0,303.9H107.4 M102.0,289.9H107.4 M102.0,278.5H107.4 M102.0,268.9H107.4 M102.0,260.5H107.4 M102.0,253.2H107.4 M102.0,422.4H107.4 M102.0,412.8H107.4 M102.0,404.4H107.4 M102.0,397.1H107.4 M241.0,433.7V426.2 M379.8,433.7V426.2 M518.6,433.7V426.2" stroke="#000" stroke-width="2.4" fill="none" stroke-linecap="round"/>
<rect x="102.0" y="2.5" width="527.5" height="431.2" fill="none" stroke="#000" stroke-width="3.5" stroke-linejoin="round"/>
<text x="102.2" y="472.5" font-size="29" text-anchor="middle">10</text>
<text x="241.0" y="472.5" font-size="29" text-anchor="middle">15</text>
<text x="379.8" y="472.5" font-size="29" text-anchor="middle">20</text>
<text x="518.6" y="472.5" font-size="29" text-anchor="middle">25</text>
<text x="46.8" y="112.5" font-size="28.6">10<tspan font-size="17.6" dx="-1.3" dy="-9.1">-5</tspan></text>
<text x="46.8" y="256.4" font-size="28.6">10<tspan font-size="17.6" dx="-1.3" dy="-9.1">-6</tspan></text>
<text x="46.8" y="400.3" font-size="28.6">10<tspan font-size="17.6" dx="-1.3" dy="-9.1">-7</tspan></text>
<text x="365.8" y="520" font-size="30.8" text-anchor="middle"><tspan font-style="italic">P</tspan> (MPa)</text>
<text transform="translate(26,217.6) rotate(-90)" font-size="30.4" text-anchor="middle"><tspan font-style="italic">y</tspan> (mole fraction)</text>
<path d="M381,256.3H428.6" stroke="#000" stroke-width="4" stroke-linecap="round"/>
<path d="M381,281.6H428.6" stroke="#000" stroke-width="4" stroke-linecap="round" stroke-dasharray="21.3,11.7"/>
<path d="M381,306.9H428.6" stroke="#000" stroke-width="4" stroke-linecap="round" stroke-dasharray="13.7,8,0,7.5,0,7.9"/>
<text x="441.5" y="263.8" font-size="20.5">PR-vdW-kij</text>
<text x="441.5" y="288.8" font-size="20.5">PR-WS-Wilson</text>
<text x="441.5" y="313.7" font-size="20.5">PR-HV-COSMOSAC</text>
<circle cx="404.8" cy="332.2" r="10" fill="none" stroke="#0b8484" stroke-width="4"/>
<text x="441.5" y="339.7" font-size="20.5">328 K</text>
<rect x="395.8" y="351.5" width="18" height="18" fill="none" stroke="#ff0000" stroke-width="3.6" stroke-linejoin="round"/>
<text x="441.5" y="368.0" font-size="20.5">318 K</text>
<path d="M404.8,376.7 L416.6,388.5 L404.8,400.3 L393.0,388.5Z" fill="none" stroke="#0000ff" stroke-width="3.8" stroke-linejoin="round"/>
<text x="441.5" y="396.0" font-size="20.5">308 K</text>
<path d="M394.3,410.2 L415.3,410.2 L404.8,428.4Z" fill="none" stroke="#800080" stroke-width="3.8" stroke-linejoin="round"/>
<text x="441.5" y="423.8" font-size="20.5">338 K</text>
</svg></body></html>
